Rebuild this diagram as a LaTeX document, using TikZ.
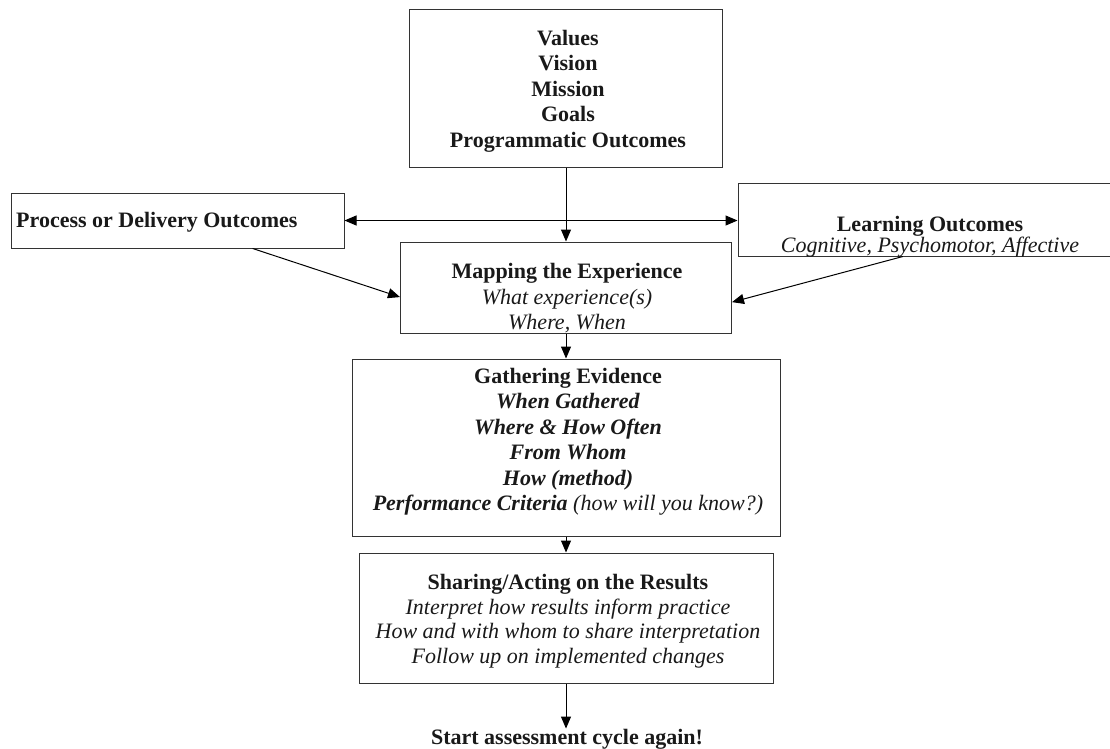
\documentclass[tikz,border=0pt]{standalone}
\usepackage{fontspec}
\setmainfont{Liberation Serif}
\usetikzlibrary{arrows.meta,calc}
\tikzset{
  box/.style={draw=black!80, line width=1pt, rectangle, inner sep=0pt},
  txt/.style={align=center, inner sep=0pt, text=black!90, font=\fontsize{22}{25.5}\selectfont},
  tip/.style={Triangle[length=12pt,width=10pt]},
  arr/.style={line width=1pt, -{Triangle[length=12pt,width=10pt]}},
}

\begin{document}
\begin{tikzpicture}[x=1pt, y=-1pt]
		%%%%% START %%%%%
		\useasboundingbox (0,0) rectangle (1110,748);
		
		% boxes
		\node[box, minimum width=313, minimum height=158] (top) at (566, 88) {};
		\node[box, minimum width=333, minimum height=55] (proc) at (177.5, 220.5) {};
		\node[box, minimum width=380, minimum height=73] (learn) at (928, 219.5) {};
		\node[box, minimum width=331, minimum height=91] (map) at (566, 287.5) {};
		\node[box, minimum width=428, minimum height=177] (gather) at (566, 447.5) {};
		\node[box, minimum width=414, minimum height=130] (share) at (566, 618) {};
		
		% texts
		\node[txt, font=\bfseries\fontsize{22}{25.5}\selectfont] (topText) at (568, 91)
			{Values\\Vision\\Mission\\Goals\\Programmatic Outcomes};
		\node[txt, anchor=west, font=\bfseries\fontsize{22}{25.5}\selectfont] (procText) at (16, 222.5)
			{Process or Delivery Outcomes};
		\node[txt, font=\fontsize{22}{17.5}\selectfont] (learnText) at (930, 236.5)
			{\textbf{Learning Outcomes}\\\textit{Cognitive, Psychomotor, Affective}};
		\node[txt] (mapText) at (567, 298.5)
			{\textbf{Mapping the Experience}\\\textit{What experience(s)}\\\textit{Where, When}};
		\node[txt] (gatherText) at (568, 441.5)
			{\textbf{Gathering Evidence}\\
			 \textbf{\textit{When Gathered}}\\
			 \textbf{\textit{Where \& How Often}}\\
			 \textbf{\textit{From Whom}}\\
			 \textbf{\textit{How (method)}}\\
			 \textbf{\textit{Performance Criteria}} \textit{(how will you know?)}};
		\node[txt, font=\fontsize{22}{24.5}\selectfont] (shareText) at (568, 621)
			{\textbf{Sharing/Acting on the Results}\\
			 \textit{Interpret how results inform practice}\\
			 \textit{How and with whom to share interpretation}\\
			 \textit{Follow up on implemented changes}};
		\node[txt, anchor=base, font=\bfseries\fontsize{22}{25.5}\selectfont] (again) at (567, 744)
			{Start assessment cycle again!};
		
		% arrows
		\draw[line width=1pt, {Triangle[length=12pt,width=10pt]}-{Triangle[length=12pt,width=10pt]}]
			(proc.east) -- (proc.east -| learn.west);
		\draw[arr] (top.south) -- (map.north);
		\draw[arr] ($(proc.south west)!0.725!(proc.south east)$) -- ($(map.north west)!0.604!(map.south west)$);
		\draw[arr] ($(learn.south west)!0.434!(learn.south east)$) -- ($(map.north east)!0.659!(map.south east)$);
		\draw[arr] (map.south) -- (gather.north);
		\draw[arr] (gather.south) -- (share.north);
		\draw[arr] (share.south) -- (share.south |- again.north);
		
		%%%%% END %%%%%
\end{tikzpicture}
\end{document}
